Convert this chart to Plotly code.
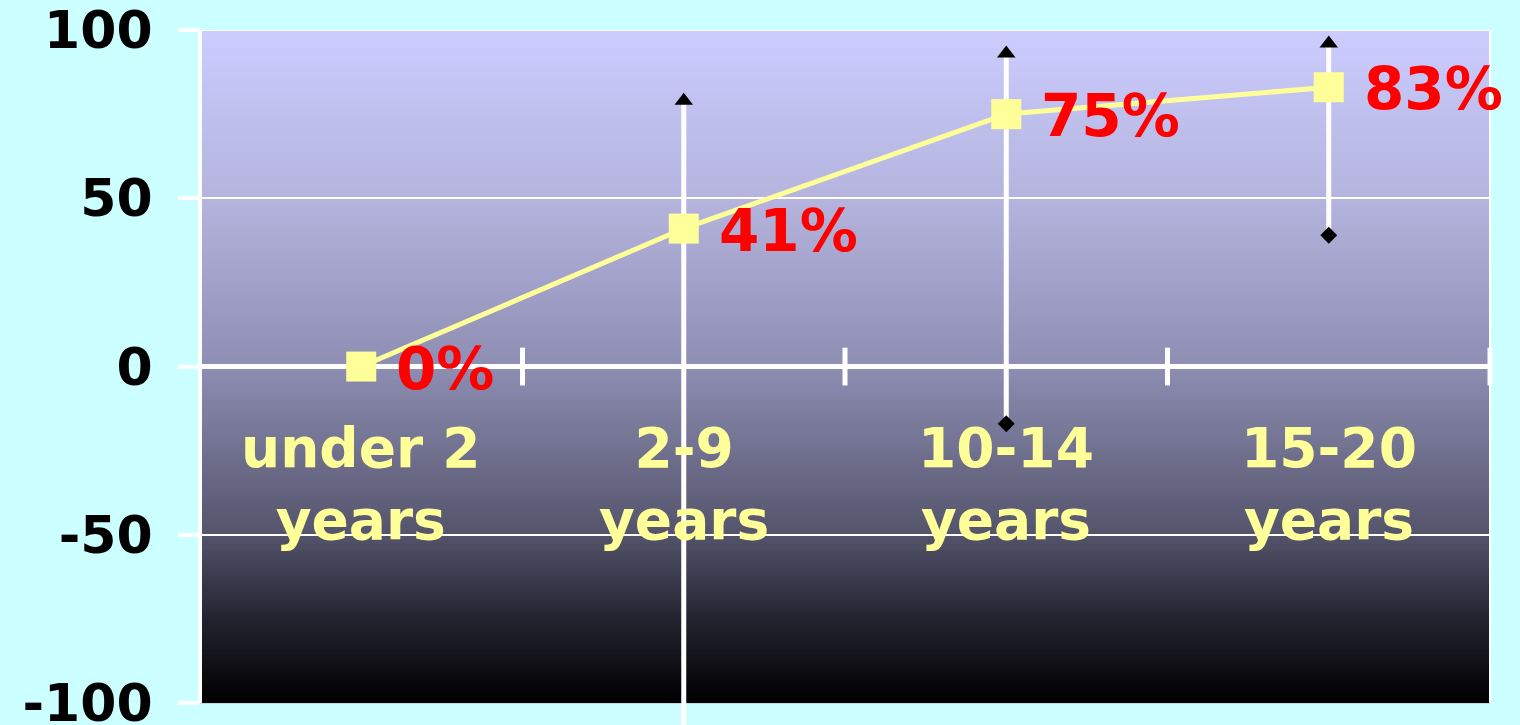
import base64
import struct
import zlib

import numpy as np
import plotly.graph_objects as go

# ---- data -------------------------------------------------------------
categories = ["under 2<br>years", "2-9<br>years", "10-14<br>years", "15-20<br>years"]
percent = [0, 41, 75, 83]
upper_bound = [None, 79, 93, 96]
lower_bound = [None, -112, -17, 39]
y_ticks = [-100, -50, 0, 50, 100]
grid_lines = [-50, 50, 100]

# ---- styling ----------------------------------------------------------
FONT = "DejaVu Sans"
YELLOW = "#FFFF99"
PAPER = "#CCFFFF"
Y_MIN, Y_MAX = -100, 100
Y_VIEW_MIN = -106.5   # room under the frame for bars that run past -100

# vertical gradient for the plot area (bottom -> top)
grad_stops = [
    (0.00, (0, 0, 0)),
    (0.12, (34, 34, 46)),
    (0.25, (84, 84, 108)),
    (0.50, (142, 142, 180)),
    (0.75, (180, 180, 222)),
    (1.00, (204, 204, 255)),
]


def gradient_png(stops, rows=400):
    """Build a 1-pixel-wide PNG running top (1.0) to bottom (0.0)."""
    pos = [s[0] for s in stops]
    cols = np.array([s[1] for s in stops], dtype=float)
    t = np.linspace(1.0, 0.0, rows)
    rgb = np.stack([np.interp(t, pos, cols[:, k]) for k in range(3)], axis=1)
    rgb = np.clip(np.round(rgb), 0, 255).astype(np.uint8)
    raw = b"".join(b"\x00" + bytes(row) for row in rgb)

    def chunk(tag, data):
        out = struct.pack(">I", len(data)) + tag + data
        return out + struct.pack(">I", zlib.crc32(tag + data) & 0xFFFFFFFF)

    ihdr = struct.pack(">IIBBBBB", 1, rows, 8, 2, 0, 0, 0)
    png = (b"\x89PNG\r\n\x1a\n" + chunk(b"IHDR", ihdr)
           + chunk(b"IDAT", zlib.compress(raw, 9)) + chunk(b"IEND", b""))
    return "data:image/png;base64," + base64.b64encode(png).decode()


x = np.arange(len(categories))
vals = np.array(percent, dtype=float)
hi = np.array([np.nan if v is None else v for v in upper_bound], dtype=float)
lo = np.array([np.nan if v is None else v for v in lower_bound], dtype=float)
err_plus = np.nan_to_num(hi - vals, nan=0.0)
err_minus = np.nan_to_num(vals - lo, nan=0.0)

fig = go.Figure()

# main series with its white error bars
fig.add_trace(go.Scatter(
    x=x, y=vals, mode="lines+markers",
    line=dict(color=YELLOW, width=5),
    marker=dict(symbol="square", size=30, color=YELLOW),
    error_y=dict(type="data", symmetric=False, array=err_plus,
                 arrayminus=err_minus, color="white", thickness=5, width=0),
    cliponaxis=False, hoverinfo="skip",
))

# end caps of the error bars
fig.add_trace(go.Scatter(
    x=x, y=hi, mode="markers",
    marker=dict(symbol="triangle-up", size=16, color="black"),
    cliponaxis=False, hoverinfo="skip",
))
fig.add_trace(go.Scatter(
    x=x, y=lo, mode="markers",
    marker=dict(symbol="diamond", size=13, color="black"),
    cliponaxis=False, hoverinfo="skip",
))

# category tick marks crossing the zero line at the band boundaries
bounds = x + 0.5
fig.add_trace(go.Scatter(
    x=bounds, y=np.zeros_like(bounds), mode="markers",
    marker=dict(symbol="line-ns", size=27, line=dict(color="white", width=5)),
    cliponaxis=False, hoverinfo="skip",
))

annotations = []
for xi, v in zip(x, percent):
    annotations.append(dict(
        x=xi, y=v, xref="x", yref="y", text=f"{v}%", showarrow=False,
        xanchor="left", yanchor="middle", xshift=33, yshift=-2,
        font=dict(family=FONT, size=58, color="#FF0000", weight="bold"),
    ))
for xi, cat in zip(x, categories):
    annotations.append(dict(
        x=xi, y=-35, xref="x", yref="y", text=cat, showarrow=False,
        xanchor="center", yanchor="middle",
        font=dict(family=FONT, size=55, color=YELLOW, weight="bold"),
    ))

fig.update_layout(
    width=1520, height=725,
    margin=dict(l=200, r=30, t=30, b=0, autoexpand=False),
    paper_bgcolor=PAPER, plot_bgcolor="rgba(0,0,0,0)",
    showlegend=False,
    annotations=annotations,
    images=[dict(source=gradient_png(grad_stops), xref="paper", yref="y",
                 x=0, y=Y_MAX, sizex=1, sizey=Y_MAX - Y_MIN, sizing="stretch",
                 xanchor="left", yanchor="top", layer="below")],
    shapes=[
        # frame: top and right edges, left axis line
        dict(type="line", xref="paper", yref="y", x0=0, x1=1, y0=Y_MAX, y1=Y_MAX,
             line=dict(color="white", width=2), layer="below"),
        dict(type="line", xref="paper", yref="y", x0=1, x1=1, y0=Y_MIN, y1=Y_MAX,
             line=dict(color="white", width=2), layer="below"),
        dict(type="line", xref="paper", yref="y", x0=0, x1=0, y0=Y_MIN, y1=Y_MAX,
             line=dict(color="white", width=4), layer="below"),
    ],
    xaxis=dict(range=[-0.5, len(categories) - 0.5], visible=False),
    yaxis=dict(
        range=[Y_VIEW_MIN, Y_MAX], tickvals=y_ticks, ticktext=[str(t) for t in y_ticks],
        automargin=False, ticklabeloverflow="allow",
        showgrid=False,
        minor=dict(tickmode="array", tickvals=grid_lines, showgrid=True,
                   gridcolor="white", gridwidth=1.5, ticks=""),
        zeroline=True, zerolinecolor="white", zerolinewidth=5,
        showline=False,
        ticks="outside", ticklen=21, tickwidth=4, tickcolor="white",
        ticklabelstandoff=15,
        tickfont=dict(family=FONT, size=52, color="black", weight="bold"),
    ),
)

fig.write_html("out.html")
